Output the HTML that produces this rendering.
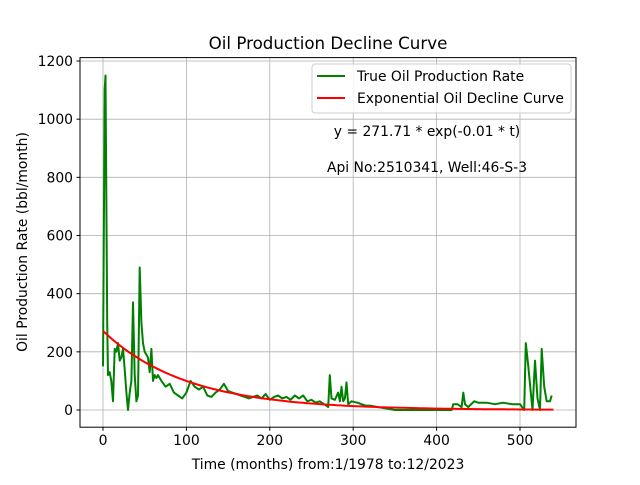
<!DOCTYPE html>
<html><head><meta charset="utf-8"><style>
body{margin:0;background:#fff}
svg text{font-family:"DejaVu Sans","Liberation Sans",sans-serif;fill:#000}
</style></head><body>
<svg id="chart" width="640" height="480">
<rect width="640" height="480" fill="#fff"/>
<g id="grid"></g><g id="ticks"></g><g id="series"></g>
<rect x="80" y="57.6" width="496" height="369.6" fill="none" stroke="#000" stroke-width="1"/>
<text x="328" y="49" font-size="16.7" text-anchor="middle">Oil Production Decline Curve</text>
<text x="328" y="469" font-size="13.9" text-anchor="middle">Time (months) from:1/1978 to:12/2023</text>
<text transform="translate(27,242) rotate(-90)" font-size="13.9" text-anchor="middle">Oil Production Rate (bbl/month)</text>
<text x="427" y="136" font-size="13.9" text-anchor="middle">y = 271.71 * exp(-0.01 * t)</text>
<text x="427" y="172" font-size="13.9" text-anchor="middle">Api No:2510341, Well:46-S-3</text>
<g>
<rect x="312" y="64" width="259" height="49" rx="3" fill="#fff" fill-opacity="0.8" stroke="#ccc"/>
<line x1="317" y1="76" x2="345" y2="76" stroke="green" stroke-width="2"/>
<text x="357" y="81" font-size="13.9">True Oil Production Rate</text>
<line x1="317" y1="98" x2="345" y2="98" stroke="red" stroke-width="2"/>
<text x="357" y="103" font-size="13.9">Exponential Oil Decline Curve</text>
</g>
</svg>
<script>
const months=[0,2,3,5,6,8,10,12,14,16,18,20,22,24,26,28,30,32,34,36,38,40,42,44,46,48,50,52,54,56,58,60,62,64,66,70,75,80,85,90,95,100,105,110,115,120,125,130,135,140,145,150,155,160,165,170,175,180,185,190,195,200,205,210,215,220,225,230,235,240,245,250,255,260,265,268,270,272,274,278,282,284,286,288,290,292,294,298,305,310,315,320,330,340,350,360,380,400,418,420,425,430,432,434,438,445,450,460,470,480,490,500,505,507,510,513,515,518,521,524,526,529,532,536,538];
const rates=[150,1100,1150,300,120,130,100,30,210,200,230,170,180,210,140,60,0,60,100,370,120,30,50,490,300,230,200,190,180,130,210,100,120,110,120,100,80,90,60,50,40,60,100,80,70,80,50,45,60,70,90,65,60,55,50,45,40,45,50,40,55,35,45,50,40,45,35,50,40,50,30,35,25,30,20,15,10,120,40,35,60,30,80,30,40,95,20,30,25,20,15,15,10,5,0,0,0,0,0,20,20,10,60,20,10,30,25,25,20,25,20,20,0,230,150,60,0,170,40,0,210,80,30,30,50];
const fitA=271.71, fitB=0.01, fitStart=0, fitEnd=540;
const xTicks=[0,100,200,300,400,500];
const yTicks=[0,200,400,600,800,1000,1200];
const X=v=>103+v*(520-103)/500;
const Y=v=>410-v*(410-61)/1200;
const NS="http://www.w3.org/2000/svg";
function mk(tag,attrs,parent){const e=document.createElementNS(NS,tag);for(const k in attrs)e.setAttribute(k,attrs[k]);document.getElementById(parent).appendChild(e);return e;}
xTicks.forEach(t=>{
 const g=mk('line',{x1:X(t),x2:X(t),y1:57.6,y2:427.2,stroke:'#b0b0b0','stroke-width':0.8},'grid');
 
 
 const tk=mk('line',{x1:X(t),x2:X(t),y1:427.2,y2:430.7,stroke:'#000'},'ticks');
 
 
 const tx=mk('text',{x:X(t),y:445,'font-size':13.9,'text-anchor':'middle'},'ticks');
 tx.textContent=t;
 
 
});
yTicks.forEach(t=>{
 const g=mk('line',{x1:80,x2:576,y1:Y(t),y2:Y(t),stroke:'#b0b0b0','stroke-width':0.8},'grid');
 
 
 const tk=mk('line',{x1:76.5,x2:80,y1:Y(t),y2:Y(t),stroke:'#000'},'ticks');
 
 
 const tx=mk('text',{x:73,y:Y(t)+5,'font-size':13.9,'text-anchor':'end'},'ticks');
 tx.textContent=t;
 
 
});
const tp=months.map((m,i)=>X(m).toFixed(1)+','+Y(rates[i]).toFixed(1)).join(' ');
const tl=mk('polyline',{points:tp,fill:'none',stroke:'green','stroke-width':2,'stroke-linejoin':'round'},'series');


const fp=[];for(let t=fitStart;t<=fitEnd;t+=5)fp.push(X(t).toFixed(1)+','+Y(fitA*Math.exp(-fitB*t)).toFixed(1));
const fl=mk('polyline',{points:fp.join(' '),fill:'none',stroke:'red','stroke-width':2},'series');


</script>
</body></html>
